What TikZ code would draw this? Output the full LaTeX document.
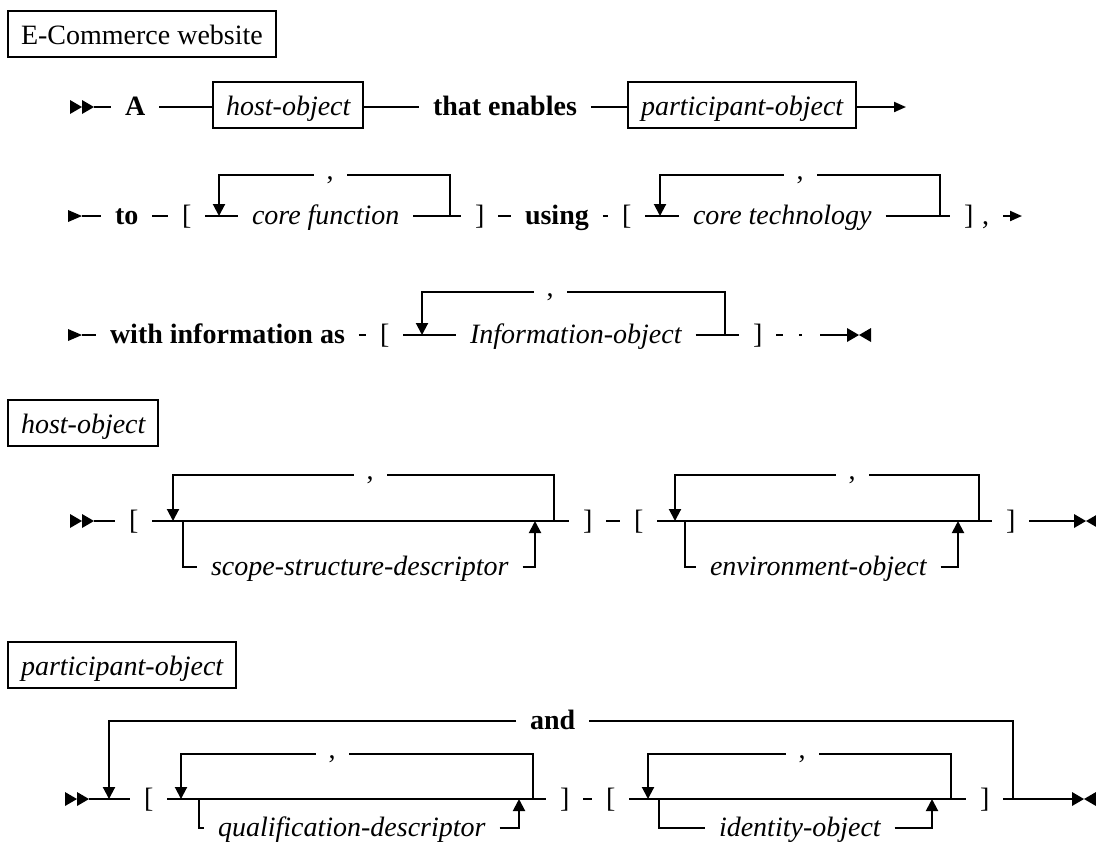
\documentclass[tikz,border=0pt]{standalone}
\usepackage{fontspec}
\setmainfont{Liberation Serif}
\usetikzlibrary{arrows.meta}
\begin{document}
\fontsize{14pt}{16pt}\selectfont
\begin{tikzpicture}[x=0.5pt,y=-0.5pt,line width=1pt,
  every node/.style={inner sep=0pt,outer sep=0pt},
  txt/.style={anchor=base west,text height=9pt,text depth=1pt,outer xsep=7pt},
  kw/.style={txt,font=\bfseries},
  nt/.style={txt,font=\itshape},
  ntbox/.style={draw,anchor=base west,text height=11pt,text depth=1pt,
    inner xsep=6.5pt,inner ysep=5.5pt,font=\itshape},
  titlebox/.style={ntbox,font=\upshape},
  sep/.style={anchor=base,text height=5pt,text depth=1pt,outer xsep=6.5pt},
  down/.style={-{Triangle[width=6pt,length=6pt]}},
  up/.style={-{Triangle[width=6pt,length=6pt]}},
  endarrow/.style={-{Triangle[width=5pt,length=6pt]}},
  startmark/.pic={\fill (0,-7) -- (12,0) -- (0,7) -- cycle;
                  \fill (12,-7) -- (24,0) -- (12,7) -- cycle;},
  contmark/.pic={\fill (0,-6) -- (14,0) -- (0,6) -- cycle;},
  endmark/.pic={\fill (0,-7) -- (12,0) -- (0,7) -- cycle;
                \fill (24,-7) -- (12,0) -- (24,7) -- cycle;}]
\useasboundingbox (0,0) rectangle (1096,843);

% ---------- E-Commerce website ----------
\node[titlebox] (title) at (8,44) {E-Commerce website};

% row 1
\pic at (70,107) {startmark};
\coordinate (r1s) at (94,107);
\node[kw] (A) at (111,115) {A};
\node[ntbox] (host1) at (213,115) {host-object};
\node[kw] (enab) at (419,115) {that enables};
\node[ntbox] (part1) at (628,115) {participant-object};
\coordinate (r1e) at (906,107);
\draw (r1s) -- (A);
\draw (A) -- (A -| host1.west);
\draw (host1.east |- A) -- (enab);
\draw (enab) -- (enab -| part1.west);
\draw[endarrow] (part1.east |- enab) -- (r1e);

% row 2
\pic at (68,216) {contmark};
\coordinate (r2s) at (82,216);
\node[kw] (to) at (101,224) {to};
\node[txt] (lb1) at (168,224) {[};
\node[nt] (cf) at (238,224) {core function};
\node[txt] (rb1) at (461,224) {]};
\node[kw] (using) at (511,224) {using};
\node[txt] (lb2) at (608,224) {[};
\node[nt] (ct) at (679,224) {core technology};
\node[txt] (rb2) at (950,224) {]};
\node[txt] (cm2) at (968,224) {,};
\coordinate (r2e) at (1022,216);
\draw (r2s) -- (to);
\draw (to) -- (lb1);
\draw (lb1) -- (cf);
\draw (cf) -- (rb1);
\draw (rb1) -- (using);
\draw (using) -- (lb2);
\draw (lb2) -- (ct);
\draw (ct) -- (rb2);
\draw[endarrow] (cm2) -- (r2e);
% repeat loops
\coordinate (j2a) at (219,216);
\coordinate (j2b) at (450,216);
\node[sep] (s2a) at (330,179) {,};
\draw (j2b) -- (j2b |- s2a) -- (s2a);
\draw[down] (s2a) -- (s2a -| j2a) -- (j2a);
\coordinate (j2c) at (660,216);
\coordinate (j2d) at (940,216);
\node[sep] (s2b) at (800,179) {,};
\draw (j2d) -- (j2d |- s2b) -- (s2b);
\draw[down] (s2b) -- (s2b -| j2c) -- (j2c);

% row 3
\pic at (68,335) {contmark};
\coordinate (r3s) at (82,335);
\node[kw] (wia) at (96,343) {with information as};
\node[txt] (lb3) at (366,343) {[};
\node[nt] (io3) at (456,343) {Information-object};
\node[txt] (rb3) at (739,343) {]};
\coordinate (d3a) at (783,335);
\coordinate (d3b) at (799,335);
\coordinate (d3c) at (802,335);
\coordinate (d3d) at (820,335);
\coordinate (r3e) at (847,335);
\draw (rb3) -- (d3a);
\draw (d3b) -- (d3c);
\draw (d3d) -- (r3e);
\draw (r3s) -- (wia);
\draw (wia) -- (lb3);
\draw (lb3) -- (io3);
\draw (io3) -- (rb3);
\pic at (r3e) {endmark};
\coordinate (j3a) at (422,335);
\coordinate (j3b) at (725,335);
\node[sep] (s3) at (550,296) {,};
\draw (j3b) -- (j3b |- s3) -- (s3);
\draw[down] (s3) -- (s3 -| j3a) -- (j3a);

% ---------- host-object ----------
\node[ntbox] (hosttitle) at (8,433) {host-object};
\pic at (70,521) {startmark};
\coordinate (r4s) at (94,521);
\node[txt] (lb4) at (115,529) {[};
\node[nt] (ssd) at (197,575) {scope-structure-descriptor};
\node[txt] (rb4) at (569,529) {]};
\node[txt] (lb5) at (620,529) {[};
\node[nt] (eo) at (696,575) {environment-object};
\node[txt] (rb5) at (992,529) {]};
\coordinate (r4e) at (1074,521);
\draw (r4s) -- (lb4);
\draw (lb4) -- (rb4);
\draw (rb4) -- (lb5);
\draw (lb5) -- (rb5);
\draw (rb5) -- (r4e);
\pic at (r4e) {endmark};
\coordinate (j4a) at (173,521);
\coordinate (j4b) at (554,521);
\node[sep] (s4a) at (370,479) {,};
\draw (j4b) -- (j4b |- s4a) -- (s4a);
\draw[down] (s4a) -- (s4a -| j4a) -- (j4a);
\coordinate (j4c) at (183,521);
\coordinate (j4d) at (535,521);
\draw (j4c) |- (ssd);
\draw[up] (ssd) -| (j4d);
\coordinate (j4e) at (675,521);
\coordinate (j4f) at (979,521);
\node[sep] (s4b) at (852,479) {,};
\draw (j4f) -- (j4f |- s4b) -- (s4b);
\draw[down] (s4b) -- (s4b -| j4e) -- (j4e);
\coordinate (j4g) at (685,521);
\coordinate (j4h) at (958,521);
\draw (j4g) |- (eo);
\draw[up] (eo) -| (j4h);

% ---------- participant-object ----------
\node[ntbox] (parttitle) at (8,675) {participant-object};
\pic at (65,799) {startmark};
\coordinate (r5s) at (89,799);
\node[txt] (lb6) at (130,807) {[};
\node[nt] (qd) at (204,836) {qualification-descriptor};
\node[txt] (rb6) at (546,807) {]};
\node[txt] (lb7) at (592,807) {[};
\node[nt] (ido) at (705,836) {identity-object};
\node[txt] (rb7) at (966,807) {]};
\node[kw] (and) at (516,729) {and};
\coordinate (r5e) at (1072,799);
\draw (r5s) -- (lb6);
\draw (lb6) -- (rb6);
\draw (rb6) -- (lb7);
\draw (lb7) -- (rb7);
\draw (rb7) -- (r5e);
\pic at (r5e) {endmark};
\coordinate (j5a) at (109,799);
\coordinate (j5b) at (1013,799);
\draw (j5b) |- (and);
\draw[down] (and) -| (j5a);
\coordinate (j5c) at (181,799);
\coordinate (j5d) at (533,799);
\node[sep] (s5a) at (332,758) {,};
\draw (j5d) -- (j5d |- s5a) -- (s5a);
\draw[down] (s5a) -- (s5a -| j5c) -- (j5c);
\coordinate (j5e) at (648,799);
\coordinate (j5f) at (951,799);
\node[sep] (s5b) at (802,758) {,};
\draw (j5f) -- (j5f |- s5b) -- (s5b);
\draw[down] (s5b) -- (s5b -| j5e) -- (j5e);
\coordinate (j5g) at (199,799);
\coordinate (j5h) at (519,799);
\draw (j5g) |- (qd);
\draw[up] (qd) -| (j5h);
\coordinate (j5i) at (659,799);
\coordinate (j5j) at (932,799);
\draw (j5i) |- (ido);
\draw[up] (ido) -| (j5j);
\end{tikzpicture}
\end{document}
